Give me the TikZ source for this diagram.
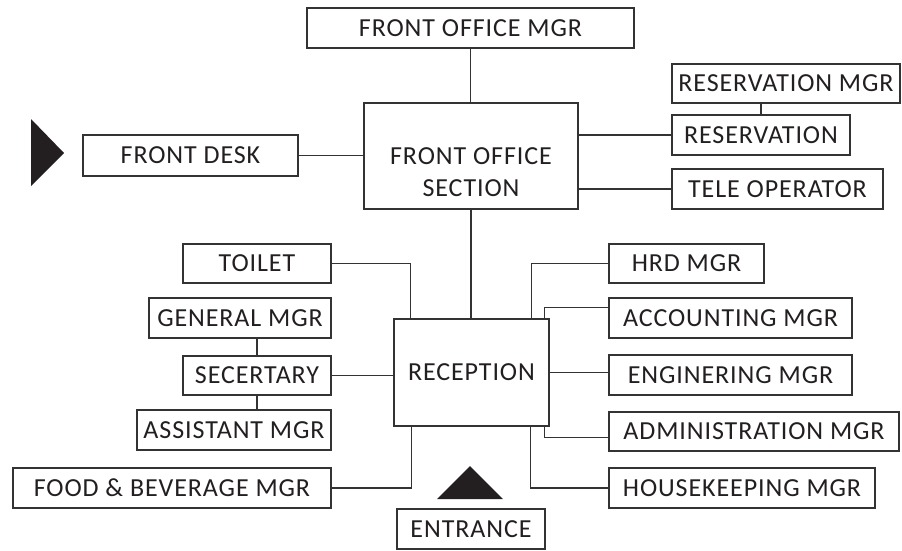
\documentclass[tikz,border=0pt]{standalone}
\usepackage{fontspec}
\setmainfont{Carlito}[LetterSpace=3.5]
\usetikzlibrary{calc}
\definecolor{ink}{HTML}{231F20}
\definecolor{edge}{HTML}{333333}
\begin{document}
\begin{tikzpicture}[x=1pt,y=-1pt,
  box/.style={draw=edge,line width=1.5pt,fill=white,inner sep=0pt,text=ink,
    font=\fontsize{26}{32}\selectfont,align=center},
  link/.style={draw=edge,line width=1.4pt},
  pointer/.style={fill=ink}]
\useasboundingbox (0,0) rectangle (902,550);

% central column
\node[box,minimum width=327,minimum height=40]  (fomgr)  at (470.5,28)   {FRONT OFFICE MGR};
\node[box,minimum width=214,minimum height=106] (fos)    at (471,156)    {\vphantom{X}\\FRONT OFFICE\\SECTION};
\node[box,minimum width=155,minimum height=107] (rec)    at (471.5,372.5) {RECEPTION};
\node[box,minimum width=148,minimum height=40]  (ent)    at (471,529)    {ENTRANCE};

% front office side
\node[box,minimum width=215,minimum height=41]  (fdesk)  at (190.5,155.5) {FRONT DESK};
\node[box,minimum width=228,minimum height=39]  (resmgr) at (786,83.5)   {RESERVATION MGR};
\node[box,minimum width=178,minimum height=40]  (res)    at (761,135)    {RESERVATION};
\node[box,minimum width=211,minimum height=40]  (tele)   at (777.5,189)  {TELE OPERATOR};

% left of reception
\node[box,minimum width=148,minimum height=39]  (toilet) at (257,263.5)  {TOILET};
\node[box,minimum width=182,minimum height=40]  (genmgr) at (240,318)    {GENERAL MGR};
\node[box,minimum width=148,minimum height=39]  (sec)    at (257,375.5)  {SECERTARY};
\node[box,minimum width=194,minimum height=40]  (asst)   at (234,430)    {ASSISTANT MGR};
\node[box,minimum width=318,minimum height=40]  (fb)     at (172,488)    {FOOD \& BEVERAGE MGR};

% right of reception
\node[box,minimum width=155,minimum height=39]  (hrd)    at (686.5,263.5) {HRD MGR};
\node[box,minimum width=243,minimum height=40]  (acc)    at (730.5,318)  {ACCOUNTING MGR};
\node[box,minimum width=243,minimum height=40]  (eng)    at (730.5,375)  {ENGINERING MGR};
\node[box,minimum width=290,minimum height=39]  (adm)    at (754,431.5)  {ADMINISTRATION MGR};
\node[box,minimum width=266,minimum height=40]  (hk)     at (742,488)    {HOUSEKEEPING MGR};

% direction markers
\fill[pointer] (31,119) -- (31,186) -- (64,153) -- cycle;
\fill[pointer] (437,499) -- (503,499) -- (470,466) -- cycle;

% connectors
\draw[link] (fomgr.south) -- (fomgr.south |- fos.north);
\draw[link] (fdesk.east) -- (fdesk.east -| fos.west);
\draw[link] (fos.east |- res.west) -- (res.west);
\draw[link] (fos.east |- tele.west) -- (tele.west);
\draw[link] (res.north) -- (res.north |- resmgr.south);
\draw[link] (fos.south) -- (fos.south |- rec.north);

\draw[link] (toilet.east) -| ($(rec.north west)+(17,0)$);
\draw[link] (sec.north) -- (sec.north |- genmgr.south);
\draw[link] (sec.south) -- (sec.south |- asst.north);
\draw[link] (sec.east) -- (sec.east -| rec.west);
\draw[link] (fb.east) -| ($(rec.south west)+(18,0)$);

\draw[link] (hrd.west) -| ($(rec.north east)+(-18,0)$);
\draw[link] ($(acc.north west)+(0,10)$) -| ($(rec.north east)+(-5,0)$);
\draw[link] (rec.east) -- (rec.east -| eng.west);
\draw[link] ($(rec.south east)+(-5,0)$) |- ($(adm.south west)+(0,-14)$);
\draw[link] ($(rec.south east)+(-19,0)$) |- (hk.west);
\end{tikzpicture}
\end{document}
